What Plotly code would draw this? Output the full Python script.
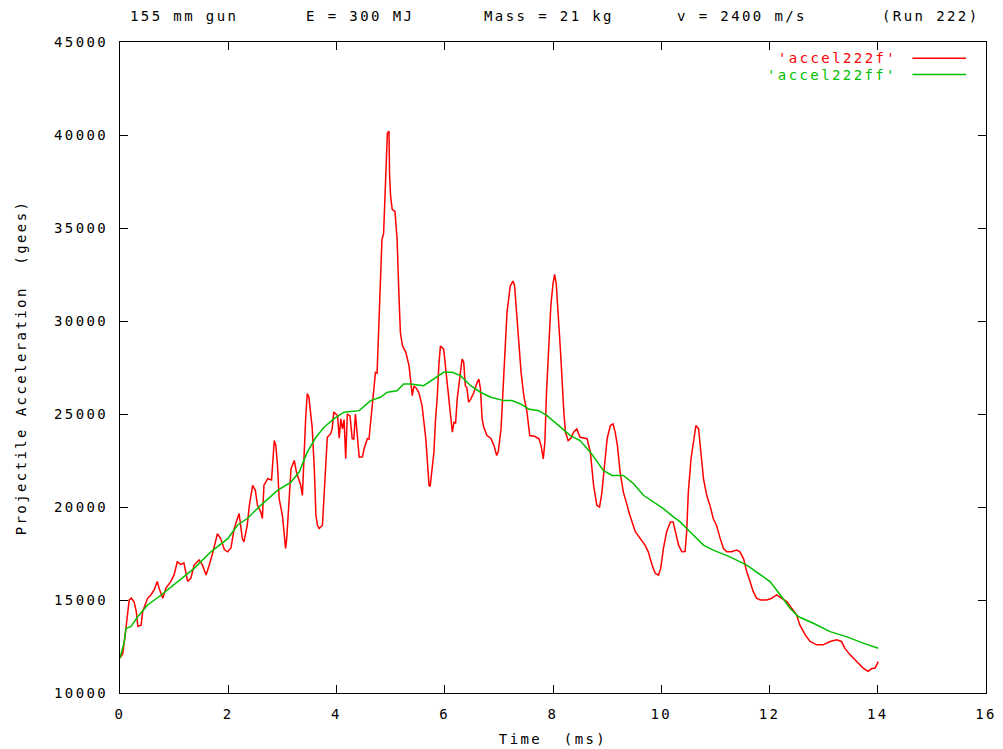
import plotly.graph_objects as go


############### DATA ###############
# raw acceleration (red) - time in ms, acceleration in gees
t_raw = [
    0.00, 0.05, 0.11, 0.17, 0.21, 0.26, 0.30, 0.33, 0.39, 0.42, 0.51, 0.57, 0.63, 0.69, 0.72, 0.79,
    0.85, 0.94, 1.00, 1.06, 1.12, 1.18, 1.25, 1.31, 1.37, 1.46, 1.52, 1.59, 1.65, 1.71, 1.80, 1.86,
    1.93, 1.99, 2.05, 2.11, 2.20, 2.26, 2.29, 2.35, 2.39, 2.45, 2.50, 2.54, 2.60, 2.63, 2.66, 2.73,
    2.80, 2.85, 2.88, 2.91, 2.94, 3.00, 3.06, 3.08, 3.16, 3.22, 3.26, 3.34, 3.37, 3.40, 3.43, 3.46,
    3.49, 3.52, 3.55, 3.59, 3.62, 3.65, 3.68, 3.74, 3.77, 3.83, 3.89, 3.92, 3.95, 4.00, 4.02, 4.05,
    4.08, 4.11, 4.14, 4.17, 4.20, 4.25, 4.29, 4.32, 4.35, 4.42, 4.48, 4.51, 4.57, 4.60, 4.63, 4.68,
    4.72, 4.75, 4.78, 4.81, 4.84, 4.87, 4.91, 4.94, 4.97, 4.98, 5.00, 5.03, 5.08, 5.12, 5.15, 5.18,
    5.22, 5.28, 5.34, 5.37, 5.40, 5.43, 5.47, 5.52, 5.58, 5.65, 5.71, 5.73, 5.80, 5.83, 5.86, 5.89,
    5.92, 5.98, 6.01, 6.05, 6.11, 6.14, 6.17, 6.20, 6.23, 6.29, 6.32, 6.35, 6.38, 6.41, 6.44, 6.48,
    6.54, 6.60, 6.63, 6.66, 6.69, 6.72, 6.78, 6.85, 6.91, 6.96, 6.99, 7.04, 7.09, 7.12, 7.15, 7.21,
    7.26, 7.29, 7.32, 7.37, 7.41, 7.46, 7.52, 7.57, 7.66, 7.74, 7.78, 7.82, 7.85, 7.88, 7.92, 7.96,
    8.00, 8.03, 8.06, 8.09, 8.14, 8.20, 8.23, 8.28, 8.33, 8.38, 8.44, 8.50, 8.63, 8.69, 8.75, 8.81,
    8.86, 8.90, 8.95, 9.00, 9.06, 9.11, 9.15, 9.19, 9.24, 9.30, 9.37, 9.40, 9.52, 9.61, 9.70, 9.76,
    9.83, 9.89, 9.95, 9.99, 10.04, 10.10, 10.17, 10.22, 10.26, 10.32, 10.38, 10.44, 10.47, 10.50,
    10.55, 10.60, 10.64, 10.69, 10.73, 10.78, 10.84, 10.90, 10.96, 11.02, 11.09, 11.15, 11.21, 11.30,
    11.39, 11.45, 11.52, 11.58, 11.64, 11.70, 11.76, 11.83, 11.95, 12.04, 12.13, 12.23, 12.32, 12.41,
    12.50, 12.56, 12.66, 12.75, 12.87, 12.99, 13.12, 13.24, 13.33, 13.39, 13.49, 13.61, 13.73, 13.82,
    13.88, 13.95, 14.01,
]
a_raw = [
    11880, 12100, 13480, 15000, 15100, 14900, 14390, 13590, 13650, 14400, 15090, 15270, 15540, 16000, 15640, 15090,
    15640, 16000, 16360, 17070, 16900, 17000, 16000, 16180, 16880, 17150, 16900, 16340, 16900, 17500, 18570, 18300,
    17700, 17590, 17800, 18840, 19650, 18300, 18120, 19000, 20090, 21160, 20900, 20090, 19740, 19380, 21170, 21520,
    21450, 23570, 23300, 22230, 20450, 19560, 17770, 18300, 22060, 22500, 21880, 21160, 20620, 23300, 24740, 26100,
    25900, 25100, 24300, 22060, 19550, 19000, 18840, 19020, 20620, 23750, 23930, 24200, 25100, 25000, 24920, 23700,
    24740, 24200, 24700, 22600, 25000, 24900, 23670, 23650, 25000, 22680, 22700, 23130, 23670, 23650, 24560, 25810,
    27240, 27200, 29740, 32240, 34380, 34700, 38310, 40100, 40200, 37900, 36700, 35990, 35900, 34380, 31700, 29380,
    28660, 28330, 27590, 26700, 25990, 26500, 26400, 26170, 25460, 23670, 21160, 21100, 22950, 24740, 25810, 27590,
    28660, 28490, 27590, 26350, 24560, 24020, 24560, 24500, 25810, 27060, 27950, 27800, 26520, 26400, 25630, 25800,
    26170, 26700, 26880, 26350, 24740, 24300, 23840, 23700, 23300, 22770, 23000, 24200, 27240, 29200, 30450, 31880,
    32150, 31900, 30630, 29020, 27240, 25990, 25100, 23840, 23800, 23670, 23300, 22590, 23500, 26170, 28490, 30810,
    32000, 32510, 32000, 30810, 28310, 25100, 24020, 23570, 23700, 24020, 24200, 23750, 23670, 22950, 21160, 20090,
    20000, 20700, 22230, 23670, 24380, 24470, 24000, 23300, 21880, 20800, 20090, 19740, 18670, 18300, 17950, 17590,
    16880, 16430, 16340, 16700, 17770, 18670, 19200, 19200, 18670, 17950, 17590, 17600, 18670, 20800,
    22590, 23670, 24380, 24200, 22950, 21520, 20630, 20090, 19380, 19020, 18300, 17770, 17590, 17600,
    17680, 17600, 17230, 16520, 15990, 15450, 15100, 15000, 15000, 15090, 15270, 15090, 14910, 14560,
    14200, 13660, 13120, 12770, 12590, 12590, 12770, 12860, 12770, 12410, 12050, 11690, 11340, 11160,
    11300, 11340, 11690,
]

# smoothed acceleration (green)
t_smooth = [
    0.00, 0.08, 0.11, 0.20, 0.33, 0.51, 0.76, 1.06, 1.37, 1.68, 1.99, 2.17, 2.35, 2.60, 2.91, 3.16,
    3.31, 3.46, 3.62, 3.77, 3.95, 4.14, 4.42, 4.63, 4.81, 4.94, 5.12, 5.24, 5.37, 5.61, 5.80, 5.98,
    6.14, 6.29, 6.48, 6.66, 6.85, 7.09, 7.24, 7.40, 7.55, 7.74, 7.89, 8.14, 8.32, 8.50, 8.69, 8.93,
    9.09, 9.30, 9.49, 9.67, 9.86, 10.04, 10.23, 10.35, 10.53, 10.78, 10.96, 11.27, 11.58, 11.83, 12.01,
    12.20, 12.38, 12.53, 12.81, 13.12, 13.42, 13.73, 14.01,
]
a_smooth = [
    11880, 12770, 13480, 13570, 14110, 14730, 15270, 15990, 16700, 17590, 18300, 19020, 19380, 20090, 20890, 21340,
    21880, 22950, 23750, 24290, 24740, 25100, 25180, 25720, 25900, 26170, 26250, 26610, 26610, 26520, 26880, 27240,
    27240, 27060, 26520, 26170, 25900, 25720, 25720, 25540, 25270, 25180, 24910, 24290, 23840, 23570, 22950, 21970,
    21700, 21700, 21250, 20630, 20270, 19910, 19460, 19200, 18670, 17950, 17680, 17320, 16880, 16340, 15990,
    15270, 14560, 14110, 13750, 13300, 13030, 12680, 12410,
]

series_names = ["'accel222f'", "'accel222ff'"]
series_colors = ["#ff0000", "#00c000"]

title_parts = ["155 mm gun", "E = 300 MJ", "Mass = 21 kg", "v = 2400 m/s", "(Run 222)"]
title_pos = [0.009, 0.212, 0.418, 0.641, 0.878]

x_ticks = list(range(0, 17, 2))
y_ticks = list(range(10000, 45001, 5000))

FONT = "DejaVu Sans Mono"


def sp(txt):
    # gnuplot's bitmap font is widely spaced
    return '<span style="letter-spacing:2.4px">' + txt + '</span>'


############### FIGURE ###############
fig = go.Figure()
fig.add_trace(go.Scatter(x=t_raw, y=a_raw, mode="lines", name=series_names[0],
                         line=dict(color=series_colors[0], width=1.5)))
fig.add_trace(go.Scatter(x=t_smooth, y=a_smooth, mode="lines", name=series_names[1],
                         line=dict(color=series_colors[1], width=1.5)))

# title split in pieces, gnuplot style
for txt, xp in zip(title_parts, title_pos):
    fig.add_annotation(text=sp(txt), x=xp, y=1.040, xref="paper", yref="paper",
                       xanchor="left", yanchor="middle", showarrow=False,
                       font=dict(family=FONT, size=14, color="black"))

# key in the top right corner: text then line sample
for i, (name, col) in enumerate(zip(series_names, series_colors)):
    yp = 0.975 - i * 0.025
    fig.add_annotation(text=sp(name), x=0.899, y=yp, xref="paper", yref="paper",
                       xanchor="right", yanchor="middle", showarrow=False,
                       font=dict(family=FONT, size=14, color=col))
    fig.add_shape(type="line", xref="paper", yref="paper",
                  x0=0.915, x1=0.977, y0=yp, y1=yp,
                  line=dict(color=col, width=1.5))

axis_common = dict(
    showgrid=False, zeroline=False, showline=True, linecolor="black", linewidth=1,
    mirror="ticks", ticks="inside", ticklen=8, tickcolor="black", tickwidth=1,
    tickfont=dict(family=FONT, size=14, color="black"),
)

fig.update_xaxes(range=[0, 16], tickvals=x_ticks, ticktext=[sp(str(v)) for v in x_ticks],
                 ticklabelstandoff=8,
                 title=dict(text=sp("Time  (ms)"), font=dict(family=FONT, size=14, color="black"), standoff=13),
                 **axis_common)
fig.update_yaxes(range=[10000, 45000], tickvals=y_ticks, ticktext=[sp(str(v)) for v in y_ticks],
                 ticklabelstandoff=8,
                 title=dict(text=sp("Projectile Acceleration  (gees)"),
                            font=dict(family=FONT, size=14, color="black"), standoff=24),
                 **axis_common)

# page body adds 8px, so margins are shifted by that amount
fig.update_layout(
    width=1003, height=749,
    margin=dict(l=111, r=25, t=34, b=62),
    plot_bgcolor="white", paper_bgcolor="white",
    showlegend=False,
    font=dict(family=FONT, size=14, color="black"),
)

fig.write_html("out.html")
